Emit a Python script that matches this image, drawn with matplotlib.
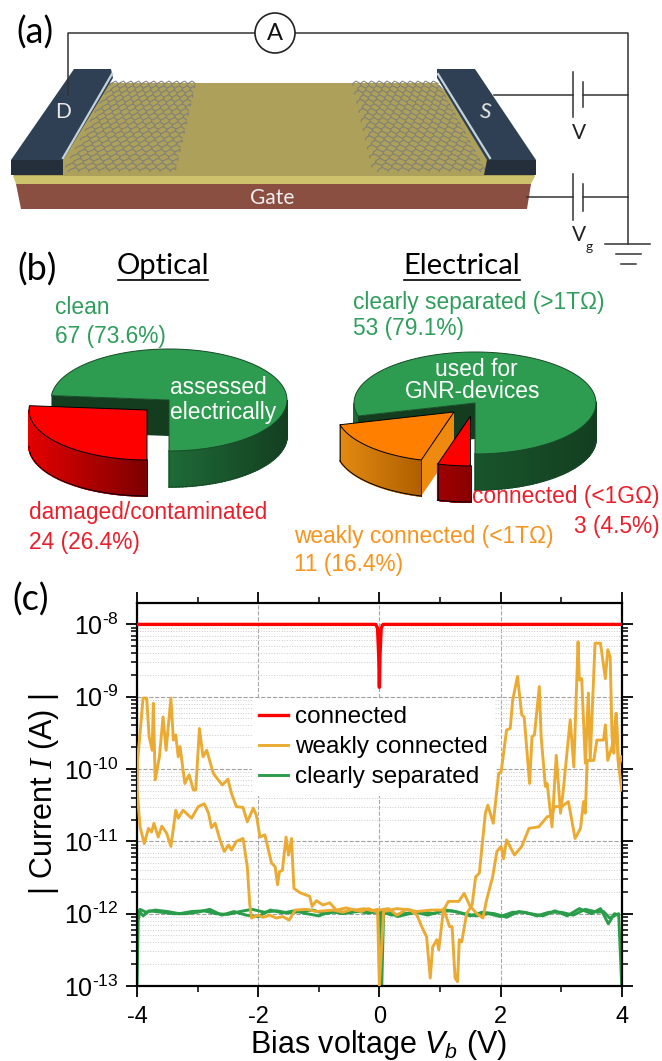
import numpy as np
import matplotlib
matplotlib.use('Agg')
import matplotlib.pyplot as plt
from matplotlib.collections import LineCollection
from matplotlib.colors import to_rgb
from matplotlib.lines import Line2D
from matplotlib.patches import Circle, Polygon
from matplotlib.ticker import FixedLocator, NullFormatter

plt.rcParams['font.family'] = ['Liberation Sans', 'DejaVu Sans']
plt.rcParams['mathtext.fontset'] = 'custom'
plt.rcParams['mathtext.rm'] = 'Liberation Sans'
plt.rcParams['mathtext.it'] = 'Liberation Sans:italic'
plt.rcParams['mathtext.cal'] = 'Liberation Serif:italic'

# pie counts
optical_counts = [67, 24]
electrical_counts = [53, 11, 3]

# I-V curves, current kept as log10(A)
red_x = [-4.0, -0.06, -0.03, -0.01, 0.0, 0.01, 0.03, 0.06, 4.0]
red_log = [-8.0, -8.0, -8.05, -8.45, -8.87, -8.45, -8.05, -8.0, -8.0]

green_a_x = [-4.0, -3.98, -3.95, -3.85, -3.7, -3.5, -3.3, -3.1, -2.9, -2.7, -2.5, -2.3, -2.1, -1.9,
             -1.7, -1.5, -1.3, -1.1, -0.9, -0.7, -0.5, -0.3, -0.1, 0.02, 0.04, 0.07, 0.2, 0.4, 0.6,
             0.8, 1.0, 1.2, 1.4, 1.6, 1.8, 2.0, 2.2, 2.4, 2.6, 2.8, 3.0, 3.2, 3.4, 3.6, 3.7, 3.8,
             3.9, 3.95, 4.0]
green_a_log = [-13.0, -12.1, -11.94, -11.98, -11.95, -11.97, -12.0, -11.97, -11.96, -12.0, -12.01,
               -11.97, -11.94, -11.98, -11.96, -11.99, -11.97, -11.95, -12.0, -11.97, -11.99,
               -11.96, -11.98, -11.98, -13.0, -11.98, -12.02, -12.0, -11.98, -12.02, -11.97, -11.96,
               -12.0, -12.03, -12.0, -12.04, -11.98, -11.98, -12.03, -11.98, -11.98, -12.02, -11.94,
               -11.98, -11.97, -12.06, -12.02, -12.0, -13.0]
green_b_x = [-3.97, -3.9, -3.8, -3.6, -3.4, -3.2, -3.0, -2.8, -2.6, -2.4, -2.2, -2.0, -1.8, -1.6,
             -1.4, -1.2, -1.0, -0.8, -0.6, -0.4, -0.2, 0.0, 0.15, 0.3, 0.5, 0.7, 0.9, 1.1, 1.3, 1.5,
             1.7, 1.9, 2.1, 2.3, 2.5, 2.7, 2.9, 3.1, 3.3, 3.5, 3.65, 3.78, 3.88, 3.95]
green_b_log = [-11.96, -12.03, -11.96, -11.98, -12.0, -12.0, -11.98, -11.94, -12.02, -11.97, -12.02,
               -12.04, -11.95, -11.99, -11.96, -12.0, -12.03, -11.97, -12.0, -11.96, -11.99, -11.97,
               -11.96, -12.04, -12.0, -11.97, -12.0, -11.95, -11.98, -12.03, -11.98, -12.0, -12.05,
               -11.97, -12.0, -12.03, -11.96, -12.03, -11.93, -12.0, -11.93, -12.14, -12.0, -12.02]

weak_a_x = [-4.0, -3.99, -3.94, -3.9, -3.84, -3.8, -3.75, -3.73, -3.7, -3.63, -3.57, -3.52, -3.44,
            -3.4, -3.36, -3.32, -3.29, -3.21, -3.14, -3.07, -3.03, -2.97, -2.91, -2.85, -2.74,
            -2.66, -2.59, -2.5, -2.44, -2.36, -2.25, -2.18, -2.08, -2.03, -1.97, -1.89, -1.78,
            -1.72, -1.68, -1.65, -1.6, -1.54, -1.5, -1.45, -1.41, -1.31, -1.15, -1.11, -1.04,
            -0.93, -0.82, -0.71, -0.55, -0.4, -0.25, -0.12, -0.03, 0.0, 0.07, 0.29, 0.51, 0.62,
            0.7, 0.78, 0.84, 0.88, 0.95, 0.98, 1.06, 1.16, 1.2, 1.25, 1.29, 1.32, 1.36, 1.44,
            1.53, 1.59, 1.65, 1.75, 1.79, 1.88, 1.97, 2.01, 2.1, 2.16, 2.2, 2.28, 2.35, 2.39,
            2.48, 2.52, 2.56, 2.64, 2.67, 2.74, 2.77, 2.85, 2.92, 2.99, 3.03, 3.15, 3.21, 3.28,
            3.3, 3.34, 3.4, 3.45, 3.48, 3.56, 3.65, 3.73, 3.77, 3.81, 3.84, 3.87, 3.91, 3.94, 4.0]
weak_a_log = [-10.24, -9.88, -9.41, -9.02, -9.02, -9.55, -9.74, -9.09, -10.15, -9.83, -9.28, -9.74,
              -9.02, -9.6, -9.53, -9.83, -9.69, -10.2, -10.08, -10.29, -10.29, -9.44, -9.83, -9.74,
              -10.06, -10.15, -10.22, -10.14, -10.34, -10.52, -10.53, -10.73, -10.54, -10.64,
              -10.94, -10.91, -11.3, -11.35, -11.6, -11.42, -11.4, -10.94, -11.19, -10.96, -11.65,
              -11.71, -11.76, -11.9, -11.82, -11.88, -11.85, -11.95, -11.92, -11.95, -11.93,
              -11.96, -11.94, -12.99, -11.97, -11.93, -11.95, -12.02, -12.18, -12.32, -12.89,
              -12.46, -12.36, -12.5, -11.93, -12.18, -12.18, -12.89, -12.94, -12.36, -12.39, -12.0,
              -11.88, -11.49, -11.44, -10.61, -10.5, -10.75, -10.06, -10.04, -9.46, -9.44, -9.05,
              -8.72, -9.25, -9.28, -10.2, -9.55, -9.53, -8.86, -9.55, -10.24, -10.2, -10.8, -9.81,
              -10.61, -10.34, -9.32, -9.97, -8.24, -8.77, -8.75, -9.92, -8.95, -9.88, -8.26, -8.26,
              -8.75, -8.35, -8.45, -9.55, -9.78, -9.23, -9.88, -10.29]
weak_b_x = [-4.0, -3.95, -3.88, -3.81, -3.76, -3.72, -3.65, -3.59, -3.51, -3.44, -3.36, -3.32,
            -3.24, -3.1, -2.99, -2.89, -2.82, -2.77, -2.71, -2.63, -2.56, -2.49, -2.44, -2.36,
            -2.25, -2.18, -2.14, -2.11, -2.0, -1.92, -1.81, -1.7, -1.59, -1.49, -1.39, -1.2, -1.04,
            -0.76, -0.6, -0.45, -0.3, -0.18, -0.06, 0.0, 0.15, 0.29, 0.45, 0.62, 0.85, 1.06, 1.14,
            1.31, 1.4, 1.5, 1.61, 1.71, 1.77, 1.87, 1.94, 2.01, 2.05, 2.1, 2.23, 2.35, 2.47, 2.63,
            2.77, 2.85, 2.89, 3.01, 3.12, 3.23, 3.32, 3.37, 3.4, 3.43, 3.54, 3.59, 3.7, 3.73, 3.77,
            3.84, 3.91, 3.95, 4.0]
weak_b_log = [-10.27, -10.8, -11.03, -10.82, -10.87, -10.75, -10.94, -10.79, -10.89, -11.07, -10.57,
              -10.68, -10.57, -10.68, -10.52, -10.48, -10.61, -10.81, -10.75, -10.98, -11.14,
              -11.05, -11.12, -11.0, -10.96, -11.35, -11.86, -12.06, -12.02, -12.05, -12.02, -12.06,
              -12.04, -12.09, -11.95, -11.94, -11.97, -11.95, -11.98, -11.94, -11.97, -11.93,
              -11.97, -11.95, -11.93, -12.02, -11.94, -11.97, -11.95, -11.95, -11.83, -11.83,
              -11.72, -11.9, -12.0, -12.06, -11.81, -11.49, -11.14, -11.07, -11.24, -10.98, -11.19,
              -11.07, -10.82, -10.8, -10.66, -10.64, -10.52, -10.52, -10.45, -10.96, -10.82, -10.45,
              -10.61, -9.88, -9.88, -9.6, -9.6, -9.39, -9.88, -9.69, -9.23, -9.97, -9.83]

y_decades = [-13, -12, -11, -10, -9, -8]
y_labels = ['$\\mathregular{10^{\\text{-}%d}}$' % abs(d) for d in y_decades]
x_major = [-4, -2, 0, 2, 4]
x_minor = [-3, -1, 1, 3]


def quad(ax, pts, color, z, edge='none', lw=0):
    ax.add_patch(Polygon(pts, closed=True, facecolor=color, edgecolor=edge, lw=lw, zorder=z))


def wedge3d(ax, cx, cy, rx, ry, depth, a0, a1, top, side0, side1, z, cut=None, edge='black'):
    ang = np.radians(np.linspace(a0, a1, 160))
    xs = cx + rx * np.cos(ang)
    ys = cy - ry * np.sin(ang)
    c0 = np.array(to_rgb(side0))
    c1 = np.array(to_rgb(side1))
    front = [i for i in range(len(ang) - 1) if np.sin(ang[i] + 0.005) < 0]
    xmin, xmax = xs[front].min(), xs[front].max()
    for i in front:
        c = c0 + (c1 - c0) * (xs[i] - xmin) / (xmax - xmin)
        quad(ax, [(xs[i], ys[i]), (xs[i + 1], ys[i + 1]), (xs[i + 1], ys[i + 1] + depth), (xs[i], ys[i] + depth)],
             c, z, edge=c, lw=1.2)
    if cut is not None:
        # inner wall at the a1 end of the slice
        quad(ax, [(cx, cy), (xs[-1], ys[-1]), (xs[-1], ys[-1] + depth), (cx, cy + depth)], cut, z + 0.1)
    outline = list(zip(xs, ys)) + [(cx, cy)]
    ax.add_patch(Polygon(outline, closed=True, facecolor=top, edgecolor=edge, lw=0.7, zorder=z + 0.2))
    low = np.where(np.sin(ang) <= 0, ys + depth, np.nan)
    ax.add_line(Line2D(xs, low, color=edge, lw=0.7, zorder=z + 0.2))
    for a in (ang[0], ang[-1]):
        if np.sin(a) <= 0.001:
            px = cx + rx * np.cos(a)
            py = cy - ry * np.sin(a)
            ax.add_line(Line2D([px, px], [py, py + depth], color=edge, lw=0.5, zorder=z + 0.2))


def honeycomb(ax, tl, tr, bl, br, rows, cols):
    tl, tr, bl, br = map(np.array, (tl, tr, bl, br))

    def warp(u, v):
        return (tl * (1 - u) + tr * u) * (1 - v) + (bl * (1 - u) + br * u) * v

    segs = []
    for r in range(rows):
        v0 = r / rows
        v1 = (r + 0.6) / rows
        for c in range(cols):
            u0 = c / cols
            u1 = (c + 0.5) / cols
            u2 = (c + 1) / cols
            off = 0.5 / cols if r % 2 else 0
            segs.append([warp(min(u0 + off, 1), v1), warp(min(u1 + off, 1), v0)])
            segs.append([warp(min(u1 + off, 1), v0), warp(min(u2 + off, 1), v1)])
            segs.append([warp(min(u0 + off, 1), v1), warp(min(u0 + off, 1), (r + 1) / rows)])
    ax.add_collection(LineCollection(segs, colors='#7e7e7a', linewidths=0.75, zorder=3))


fig = plt.figure(figsize=(6.62, 10.61), dpi=100)

# page axes in image pixels for panels a and b
bg = fig.add_axes([0, 0, 1, 1])
bg.set_xlim(0, 662)
bg.set_ylim(1061, 0)
bg.axis('off')

# device
quad(bg, [(16, 184), (531, 184), (527, 209), (21, 209)], '#8b4f42', 1)
quad(bg, [(13, 176), (535, 176), (531, 184), (16, 184)], '#cfc26c', 1)
quad(bg, [(110, 83), (437, 83), (535, 176), (13, 176)], '#aca05a', 1)
honeycomb(bg, (112, 81), (196, 81), (63, 172), (175, 172), 20, 11)
honeycomb(bg, (352, 81), (437, 81), (373, 172), (486, 172), 20, 11)
quad(bg, [(11, 160), (74, 69), (111, 69), (113, 78), (63, 160)], '#2f4054', 4)
quad(bg, [(11, 160), (63, 160), (63, 175), (11, 175)], '#252f3c', 4)
quad(bg, [(437, 78), (437, 69), (475, 69), (536, 160), (487, 160)], '#2f4054', 4)
quad(bg, [(487, 160), (536, 160), (536, 175), (484, 175)], '#252f3c', 4)
bg.plot([112, 63], [74, 158], color='#c5d2dc', lw=1.6, zorder=4.5)
bg.plot([438, 490], [74, 158], color='#c5d2dc', lw=1.6, zorder=4.5)

# circuit
wire = dict(color='#333333', lw=1.1, zorder=5)
bg.plot([68, 68, 255], [95, 33, 33], **wire)
bg.plot([295, 628, 628], [33, 33, 244], **wire)
bg.add_patch(Circle((275, 33), 20, facecolor='white', edgecolor='#222222', lw=1.2, zorder=5))
bg.plot([494, 573], [95, 95], **wire)
bg.plot([583, 628], [95, 95], **wire)
bg.plot([573, 573], [72, 117], **wire)
bg.plot([583, 583], [82, 107], **wire)
bg.plot([527, 573], [197, 197], **wire)
bg.plot([583, 628], [197, 197], **wire)
bg.plot([573, 573], [174, 220], **wire)
bg.plot([583, 583], [184, 211], **wire)
bg.plot([605, 650], [244, 244], **wire)
bg.plot([616, 641], [254, 254], **wire)
bg.plot([621, 636], [264, 264], **wire)

sch = dict(family='Lato', ha='center', va='center', zorder=6)
bg.text(275, 33, 'A', fontsize=17, color='#111111', **sch)
bg.text(63, 112, 'D', fontsize=15, color='#e8e8e8', **sch)
bg.text(485, 112, 'S', fontsize=15, color='#e8e8e8', rotation=-10, **sch)
bg.text(272, 198, 'Gate', fontsize=15, color='#eeeeee', **sch)
bg.text(579, 133, 'V', fontsize=15, color='#222222', **sch)
bg.text(579, 235, 'V', fontsize=15, color='#222222', **sch)
bg.text(589, 247, 'g', fontsize=10, color='#222222', **sch)
bg.text(35, 33, '(a)', fontsize=26, color='black', **sch)
bg.text(37, 270, '(b)', fontsize=26, color='black', **sch)
bg.text(31, 600, '(c)', fontsize=26, color='black', **sch)

bg.text(163, 266, 'Optical', fontsize=21, color='black', **sch)
bg.text(462, 266, 'Electrical', fontsize=21, color='black', **sch)
bg.plot([118, 208], [280, 280], color='black', lw=1.2)
bg.plot([404, 520], [280, 280], color='black', lw=1.2)

# pies, slice sizes come from the counts
opt_deg = np.array(optical_counts) / sum(optical_counts) * 360
red_start = 270 - opt_deg[1]
wedge3d(bg, 169, 400, 118, 51, 36, 270, 270 + opt_deg[0], '#2e9c50', '#1f6a38', '#133f20', 1,
        cut='#143d20', edge='#174a26')
wedge3d(bg, 147, 410, 118, 50, 36, red_start, 270, '#ff0000', '#e40000', '#7e0000', 2)

ele_deg = np.array(electrical_counts) / sum(electrical_counts) * 360
small_start = 270 - ele_deg[2]
orange_start = small_start - ele_deg[1]
wedge3d(bg, 475, 403, 121, 51, 36, 270, 270 + ele_deg[0], '#2e9c50', '#1f6a38', '#133f20', 1,
        cut='#143d20', edge='#174a26')
wedge3d(bg, 454, 412, 118, 50, 36, orange_start, small_start, '#ff8000', '#e48a12', '#b06000', 2,
        cut='#ee8a10')
wedge3d(bg, 470.5, 416, 118, 50, 36, small_start, 270, '#ff0000', '#a00000', '#8a0000', 3)

pie_size = 16.4
pie_text = dict(ha='left', va='center', fontsize=pie_size, zorder=7)
bg.text(170, 387, 'assessed', color='white', **pie_text)
bg.text(170, 413, 'electrically', color='white', **pie_text)
bg.text(476, 370, 'used for', color='white', fontsize=pie_size, ha='center', va='center', zorder=7)
bg.text(473, 391, 'GNR-devices', color='white', fontsize=pie_size, ha='center', va='center', zorder=7)
green_txt = '#2f9e5c'
red_txt = '#e9202c'
orange_txt = '#f7941d'
bg.text(55, 308, 'clean', color=green_txt, **pie_text)
bg.text(55, 336, '67 (73.6%)', color=green_txt, **pie_text)
bg.text(353, 302, 'clearly separated (>1TΩ)', color=green_txt, **pie_text)
bg.text(353, 329, '53 (79.1%)', color=green_txt, **pie_text)
bg.text(29, 513, 'damaged/contaminated', color=red_txt, **pie_text)
bg.text(29, 542, '24 (26.4%)', color=red_txt, **pie_text)
bg.text(294, 537, 'weakly connected (<1TΩ)', color=orange_txt, **pie_text)
bg.text(294, 565, '11 (16.4%)', color=orange_txt, **pie_text)
bg.text(472, 497, 'connected (<1GΩ)', color=red_txt, **pie_text)
bg.text(660, 526, '3 (4.5%)', color=red_txt, ha='right', va='center', fontsize=pie_size, zorder=7)

# panel c
ax = fig.add_axes([137 / 662, 1 - 986 / 1061, (621.7 - 137) / 662, (986 - 602.7) / 1061])
ax.set_yscale('log')
ax.set_xlim(-4, 4)
ax.set_ylim(1e-13, 10 ** -7.7)
ax.patch.set_alpha(0)

ax.xaxis.set_major_locator(FixedLocator(x_major))
ax.xaxis.set_minor_locator(FixedLocator(x_minor))
ax.set_xticklabels([str(v) for v in x_major], fontsize=17)
ax.yaxis.set_major_locator(FixedLocator([10.0 ** d for d in y_decades]))
ax.yaxis.set_minor_locator(FixedLocator([m * 10.0 ** d for d in y_decades[:-1] for m in range(2, 10)]))
ax.yaxis.set_minor_formatter(NullFormatter())
ax.set_yticklabels(y_labels, fontsize=18)

ax.tick_params(which='major', direction='out', length=8, width=1.3, top=True, right=True, pad=5)
ax.tick_params(which='minor', direction='out', length=4.5, width=1.1, top=True, right=True)
ax.tick_params(axis='x', which='major', pad=6.5)
for s in ax.spines.values():
    s.set_linewidth(1.6)

ax.grid(True, which='minor', axis='y', color='#cccccc', ls=':', lw=0.7, zorder=0)
ax.grid(True, which='major', axis='y', color='#a0a0a0', ls='--', lw=0.8, zorder=0)
ax.grid(True, which='major', axis='x', color='#a8a8a8', ls='--', lw=0.8, zorder=0)
ax.set_axisbelow(True)

ax.plot(green_a_x, 10.0 ** np.array(green_a_log), color='#2a9d4a', lw=2.1, zorder=2)
ax.plot(green_b_x, 10.0 ** np.array(green_b_log), color='#2a9d4a', lw=2.1, zorder=2)
ax.plot(weak_a_x, 10.0 ** np.array(weak_a_log), color='#ebab33', lw=2.1, zorder=3)
ax.plot(weak_b_x, 10.0 ** np.array(weak_b_log), color='#ebab33', lw=2.1, zorder=3)
ax.plot(red_x, 10.0 ** np.array(red_log), color='#ff0000', lw=2.4, zorder=4)

handles = [Line2D([], [], color='#ff0000', lw=2.4), Line2D([], [], color='#ebab33', lw=2.1),
           Line2D([], [], color='#2a9d4a', lw=2.1)]
leg = ax.legend(handles, ['connected', 'weakly connected', 'clearly separated'], fontsize=17.5,
                loc='upper left', bbox_to_anchor=((252 - 137) / 484.7, (986 - 699) / 383.3),
                frameon=True, facecolor='white', edgecolor='none', framealpha=1, fancybox=False,
                handlelength=1.2, handletextpad=0.25, labelspacing=0.33, borderpad=0.3, borderaxespad=0)
leg.set_zorder(1.5)

fig.text(44 / 662, 1 - 794 / 1061, '| Current $\\mathcal{I}$ (A) |', rotation=90, fontsize=22,
         ha='center', va='center')
fig.text(379 / 662, 1 - 1045 / 1061, 'Bias voltage $V_b$ (V)', fontsize=22, ha='center', va='center')

fig.savefig('out.png', dpi=100)
